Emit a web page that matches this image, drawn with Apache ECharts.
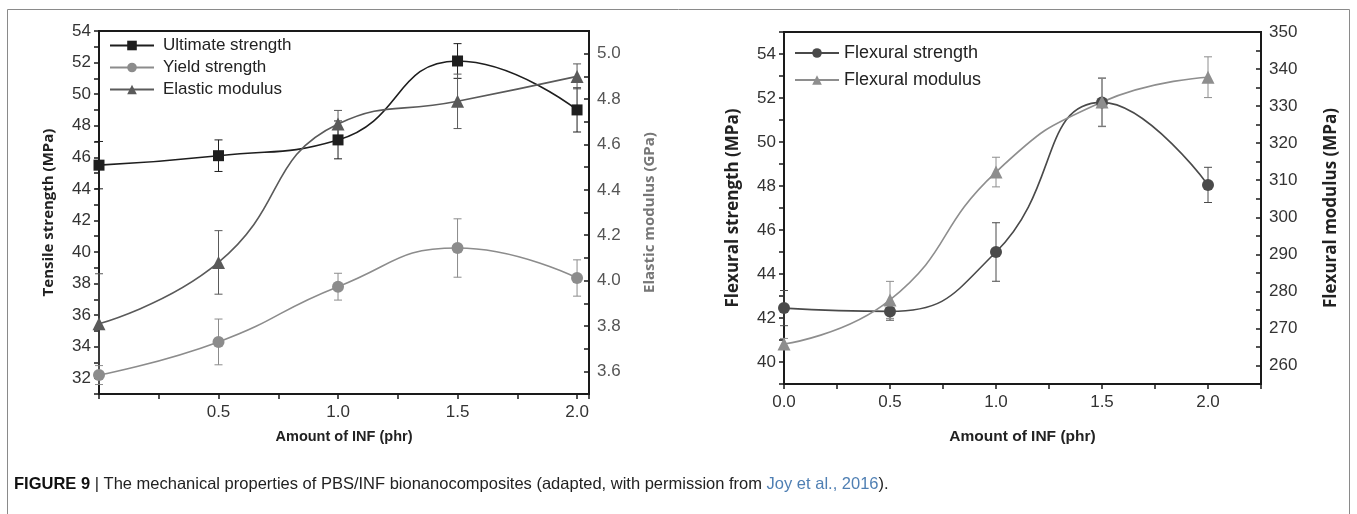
<!DOCTYPE html>
<html><head><meta charset="utf-8">
<script src="https://cdn.jsdelivr.net/npm/echarts@6/dist/echarts.min.js"></script>
<style>html,body{margin:0;padding:0;background:#fff}#c{width:1357px;height:514px}</style>
</head><body><div id="c"></div>
<script>
// ---- data ----
const xValues = [0, 0.5, 1.0, 1.5, 2.0];
const ultimateStrength = [45.5, 46.1, 47.1, 52.1, 49.0];
const ultimateErr      = [1.5, 1.0, 1.2, 1.1, 1.4];
const yieldStrength    = [32.2, 34.3, 37.8, 40.25, 38.35];
const yieldErr         = [0.6, 1.45, 0.85, 1.85, 1.15];
const elasticModulus   = [3.81, 4.08, 4.69, 4.79, 4.90];
const elasticErr       = [0.22, 0.14, 0.06, 0.12, 0.055];
const flexStrength     = [42.45, 42.3, 45.0, 51.8, 48.05];
const flexStrengthErr  = [0.8, 0.4, 1.33, 1.1, 0.8];
const flexModulus      = [265.8, 277.7, 312.2, 331.1, 337.8];
const flexModulusErr   = [1.5, 5, 4, 6.5, 5.5];

// ---- tick labels ----
const leftXTicks   = [0.5, 1.0, 1.5, 2.0];
const rightXTicks  = [0, 0.5, 1.0, 1.5, 2.0];
const tensileTicks = [32, 34, 36, 38, 40, 42, 44, 46, 48, 50, 52, 54];
const elasticTicks = [3.6, 3.8, 4.0, 4.2, 4.4, 4.6, 4.8, 5.0];
const flexSTicks   = [40, 42, 44, 46, 48, 50, 52, 54];
const flexMTicks   = [260, 270, 280, 290, 300, 310, 320, 330, 340, 350];

const FONT = '"Liberation Sans","Arimo",sans-serif';
const TITLE_FONT = '"Open Sans","DejaVu Sans",sans-serif';

const fmt = (ticks, dec) => v => ticks.some(t => Math.abs(t - v) < 1e-6) ? v.toFixed(dec) : '';
const pairs = arr => arr.map((v, i) => [xValues[i], v]);

function errSeries(name, xi, yi, vals, errs, color) {
  return {
    type: 'custom', name: name + ' error', xAxisIndex: xi, yAxisIndex: yi, z: 1, silent: true, clip: false,
    data: vals.map((v, i) => [xValues[i], v - errs[i], v + errs[i]]),
    encode: { x: 0, y: [1, 2] },
    renderItem(params, api) {
      const x = api.value(0);
      const lo = api.coord([x, api.value(1)]);
      const hi = api.coord([x, api.value(2)]);
      const w = 4;
      const st = { stroke: color, lineWidth: 1 };
      return { type: 'group', children: [
        { type: 'line', shape: { x1: lo[0], y1: lo[1], x2: hi[0], y2: hi[1] }, style: st },
        { type: 'line', shape: { x1: lo[0] - w, y1: lo[1], x2: lo[0] + w, y2: lo[1] }, style: st },
        { type: 'line', shape: { x1: hi[0] - w, y1: hi[1], x2: hi[0] + w, y2: hi[1] }, style: st }
      ]};
    }
  };
}

function lineSeries(name, xi, yi, vals, color, symbol, size) {
  return {
    type: 'line', name, xAxisIndex: xi, yAxisIndex: yi, data: pairs(vals), smooth: 0.5,
    symbol, symbolSize: size, showSymbol: true, z: 3,
    lineStyle: { color, width: 1.6 }, itemStyle: { color, borderWidth: 0 }
  };
}

const axisLine = { show: true, lineStyle: { color: '#1a1a1a', width: 2 } };
const tickOut = { show: true, inside: false, length: 5, lineStyle: { color: '#1a1a1a', width: 1.5 } };
const tickIn  = { show: true, inside: true,  length: 5, lineStyle: { color: '#1a1a1a', width: 1.5 } };
const lblStyle = { fontFamily: FONT, fontSize: 17, color: '#333' };

const C_ULT = '#1e1e1e', C_YLD = '#8c8c8c', C_EL = '#5a5a5a', C_FS = '#4a4a4a', C_FM = '#8e8e8e';

const option = {
  backgroundColor: '#fff',
  animation: false,
  grid: [
    { left: 99, right: 768, top: 31, bottom: 120, show: true, borderColor: '#1a1a1a', borderWidth: 2 },
    { left: 784, right: 96, top: 32, bottom: 130, show: true, borderColor: '#1a1a1a', borderWidth: 2 }
  ],
  xAxis: [
    { type: 'value', gridIndex: 0, min: 0, max: 2.05, interval: 0.25, axisLine, axisTick: tickOut, splitLine: { show: false },
      axisLabel: { ...lblStyle, margin: 10, formatter: fmt(leftXTicks, 1), showMinLabel: true, showMaxLabel: true },
      name: 'Amount of INF (phr)', nameLocation: 'middle', nameGap: 35,
      nameTextStyle: { fontFamily: FONT, fontWeight: 'bold', fontSize: 14.5, color: '#222' } },
    { type: 'value', gridIndex: 1, min: 0, max: 2.25, interval: 0.25, axisLine, axisTick: tickOut, splitLine: { show: false },
      axisLabel: { ...lblStyle, margin: 10, formatter: fmt(rightXTicks, 1), showMinLabel: true, showMaxLabel: true },
      name: 'Amount of INF (phr)', nameLocation: 'middle', nameGap: 45,
      nameTextStyle: { fontFamily: FONT, fontWeight: 'bold', fontSize: 15.5, color: '#222' } }
  ],
  yAxis: [
    { type: 'value', gridIndex: 0, position: 'left', min: 31, max: 54, interval: 1, axisLine, axisTick: tickOut, splitLine: { show: false },
      axisLabel: { ...lblStyle, margin: 8, formatter: fmt(tensileTicks, 0) },
      name: 'Tensile strength (MPa)', nameLocation: 'middle', nameGap: 43,
      nameTextStyle: { fontFamily: TITLE_FONT, fontWeight: 'bold', fontSize: 15, color: '#222' } },
    { type: 'value', gridIndex: 0, position: 'right', min: 3.5, max: 5.1, interval: 0.1, axisLine, axisTick: tickIn, splitLine: { show: false },
      axisLabel: { ...lblStyle, color: '#555', margin: 8, formatter: fmt(elasticTicks, 1) },
      name: 'Elastic modulus (GPa)', nameLocation: 'middle', nameGap: 53,
      nameTextStyle: { fontFamily: TITLE_FONT, fontWeight: 'bold', fontSize: 15, color: '#777' } },
    { type: 'value', gridIndex: 1, position: 'left', min: 39, max: 55, interval: 1, axisLine, axisTick: tickOut, splitLine: { show: false },
      axisLabel: { ...lblStyle, margin: 8, formatter: fmt(flexSTicks, 0) },
      name: 'Flexural strength (MPa)', nameLocation: 'middle', nameGap: 42,
      nameTextStyle: { fontFamily: TITLE_FONT, fontWeight: 'bold', fontSize: 17, color: '#222' } },
    { type: 'value', gridIndex: 1, position: 'right', min: 255, max: 350, interval: 5, axisLine, axisTick: tickIn, splitLine: { show: false },
      axisLabel: { ...lblStyle, margin: 8, formatter: fmt(flexMTicks, 0) },
      name: 'Flexural modulus (MPa)', nameLocation: 'middle', nameGap: 62,
      nameTextStyle: { fontFamily: TITLE_FONT, fontWeight: 'bold', fontSize: 17, color: '#222' } }
  ],
  legend: [
    { orient: 'vertical', left: 104, top: 32, itemWidth: 44, itemHeight: 12, itemGap: 5,
      data: ['Ultimate strength', 'Yield strength', 'Elastic modulus'],
      textStyle: { fontFamily: FONT, fontSize: 17, color: '#222', lineHeight: 13, padding: [0, 0, 0, 4] } },
    { orient: 'vertical', left: 789, top: 39, itemWidth: 44, itemHeight: 12, itemGap: 9,
      data: ['Flexural strength', 'Flexural modulus'],
      textStyle: { fontFamily: FONT, fontSize: 18, color: '#222', lineHeight: 13, padding: [0, 0, 0, 0] } }
  ],
  series: [
    errSeries('Ultimate strength', 0, 0, ultimateStrength, ultimateErr, C_ULT),
    errSeries('Yield strength', 0, 0, yieldStrength, yieldErr, C_YLD),
    errSeries('Elastic modulus', 0, 1, elasticModulus, elasticErr, C_EL),
    lineSeries('Ultimate strength', 0, 0, ultimateStrength, C_ULT, 'rect', 11),
    lineSeries('Yield strength', 0, 0, yieldStrength, C_YLD, 'circle', 12),
    lineSeries('Elastic modulus', 0, 1, elasticModulus, C_EL, 'triangle', 13),
    errSeries('Flexural strength', 1, 2, flexStrength, flexStrengthErr, C_FS),
    errSeries('Flexural modulus', 1, 3, flexModulus, flexModulusErr, C_FM),
    lineSeries('Flexural strength', 1, 2, flexStrength, C_FS, 'circle', 12),
    lineSeries('Flexural modulus', 1, 3, flexModulus, C_FM, 'triangle', 13)
  ],
  graphic: [
    { type: 'rect', shape: { x: 7.5, y: 9.5, width: 1342, height: 520 }, style: { fill: 'none', stroke: '#8a8a8a', lineWidth: 1 }, silent: true },
    { type: 'text', left: 14, top: 476, silent: true,
      style: { text: '{b|FIGURE 9} | The mechanical properties of PBS/INF bionanocomposites (adapted, with permission from {l|Joy et al., 2016}).',
        font: '16.5px ' + FONT, fill: '#222',
        rich: { b: { fontWeight: 'bold', fontFamily: FONT, fontSize: 16.5, fill: '#111', color: '#111' },
                l: { fontFamily: FONT, fontSize: 16.5, fill: '#4f7fb3', color: '#4f7fb3' } } } }
  ]
};
echarts.init(document.getElementById('c')).setOption(option);
</script></body></html>
